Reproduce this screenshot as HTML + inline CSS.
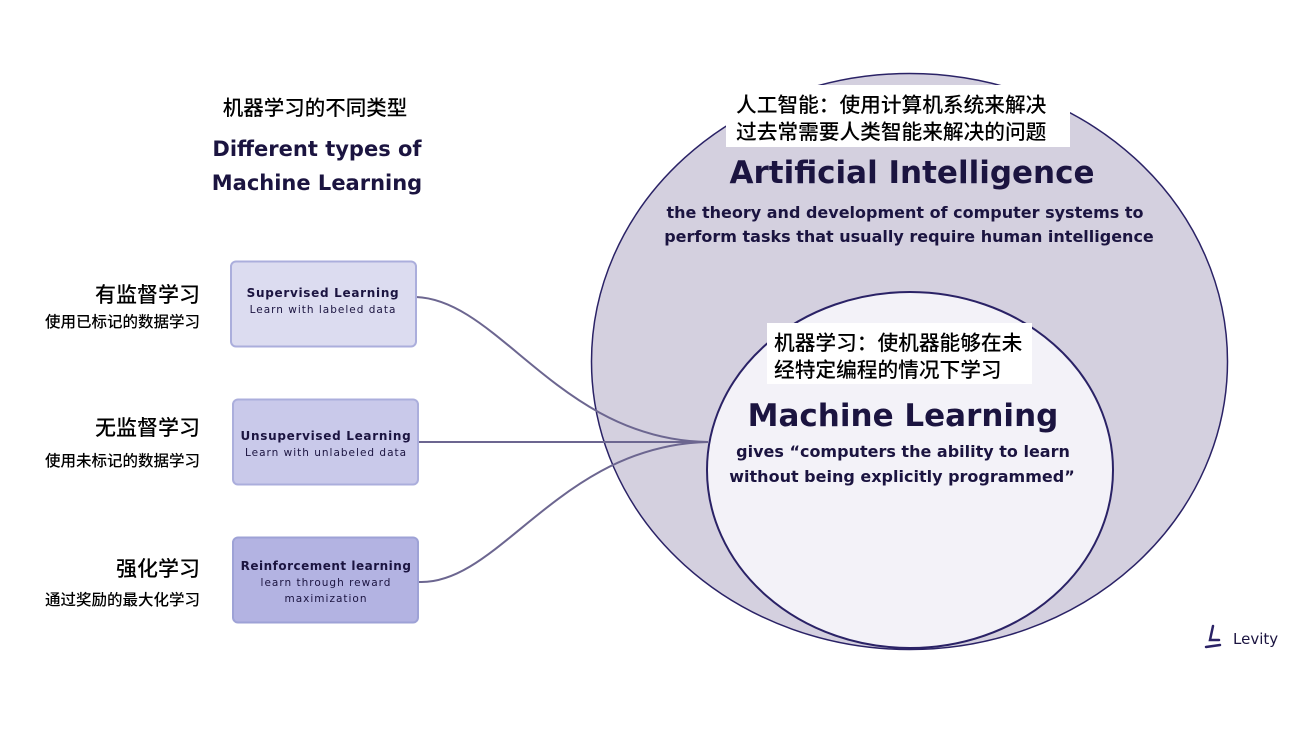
<!DOCTYPE html>
<html><head><meta charset="utf-8"><style>
html,body{margin:0;padding:0;background:#fff;width:1306px;height:734px;overflow:hidden}
svg{display:block}
.cn{font-family:"Liberation Sans","Noto Sans CJK SC",sans-serif;fill:#000;font-weight:500}
.en{font-family:"DejaVu Sans","Liberation Sans",sans-serif;fill:#1b1440;font-weight:bold}
.en2{font-family:"DejaVu Sans","Liberation Sans",sans-serif;fill:#1b1440}
</style></head><body>
<svg width="1306" height="734" viewBox="0 0 1306 734" xmlns="http://www.w3.org/2000/svg">
<ellipse cx="909.5" cy="361.5" rx="318" ry="288" fill="#d4d0df" stroke="#2a2266" stroke-width="1.5"/>
<ellipse cx="910" cy="470" rx="203" ry="178" fill="#f3f2f8" stroke="#2a2266" stroke-width="2"/>
<g fill="none" stroke="#6c6690" stroke-width="2">
<path d="M416 297 C 500 300, 560 440, 708 442"/>
<path d="M418 442 L 708 442"/>
<path d="M419 582 C 500 585, 560 445, 708 442"/>
</g>
<rect x="231" y="261.5" width="185" height="85" rx="5" fill="#dcdcf0" stroke="#abaedc" stroke-width="2"/>
<rect x="233" y="399.5" width="185" height="85" rx="5" fill="#c9c9ea" stroke="#abaedc" stroke-width="2"/>
<rect x="233" y="537.5" width="185" height="85" rx="5" fill="#b3b3e2" stroke="#9ea2d6" stroke-width="2"/>
<g text-anchor="middle">
<text class="en" x="323" y="297" font-size="12" letter-spacing="0.7">Supervised Learning</text>
<text class="en2" x="323" y="313" font-size="10.5" letter-spacing="1">Learn with labeled data</text>
<text class="en" x="326" y="440" font-size="12" letter-spacing="0.7">Unsupervised Learning</text>
<text class="en2" x="326" y="456" font-size="10.5" letter-spacing="1">Learn with unlabeled data</text>
<text class="en" x="326" y="570" font-size="12" letter-spacing="0.5">Reinforcement learning</text>
<text class="en2" x="326" y="586" font-size="10.5" letter-spacing="1">learn through reward</text>
<text class="en2" x="326" y="602" font-size="10.5" letter-spacing="1">maximization</text>
<text class="cn" x="315" y="115" font-size="20.5">机器学习的不同类型</text>
<text class="en" x="317" y="156" font-size="21">Different types of</text>
<text class="en" x="317" y="190" font-size="21">Machine Learning</text>
</g>
<g text-anchor="end">
<text class="cn" x="200" y="302" font-size="21">有监督学习</text>
<text class="cn" x="200" y="327" font-size="15.5">使用已标记的数据学习</text>
<text class="cn" x="200" y="435" font-size="21">无监督学习</text>
<text class="cn" x="200" y="466" font-size="15.5">使用未标记的数据学习</text>
<text class="cn" x="200" y="576" font-size="21">强化学习</text>
<text class="cn" x="200" y="605" font-size="15.5">通过奖励的最大化学习</text>
</g>
<rect x="726" y="85" width="344" height="62" fill="#fff"/>
<text class="cn" x="736" y="112" font-size="20.7">人工智能：使用计算机系统来解决</text>
<text class="cn" x="736" y="139" font-size="20.7">过去常需要人类智能来解决的问题</text>
<g text-anchor="middle">
<text class="en" x="912" y="183" font-size="31">Artificial Intelligence</text>
<text class="en" x="905" y="218" font-size="16">the theory and development of computer systems to</text>
<text class="en" x="909" y="242" font-size="16">perform tasks that usually require human intelligence</text>
<text class="en" x="903" y="426" font-size="31">Machine Learning</text>
<text class="en" x="903" y="457" font-size="16">gives “computers the ability to learn</text>
<text class="en" x="902" y="482" font-size="16">without being explicitly programmed”</text>
</g>
<rect x="767" y="323" width="265" height="61" fill="#fff"/>
<text class="cn" x="774" y="350" font-size="20.7">机器学习：使机器能够在未</text>
<text class="cn" x="774" y="377" font-size="20.7">经特定编程的情况下学习</text>
<path d="M1213 626 L1210 640 L1219 640 M1206 647 L1220 645" fill="none" stroke="#2a2266" stroke-width="2.5" stroke-linecap="round"/>
<text class="en2" x="1233" y="644" font-size="15" fill="#2a2266">Levity</text>
</svg>
</body></html>
